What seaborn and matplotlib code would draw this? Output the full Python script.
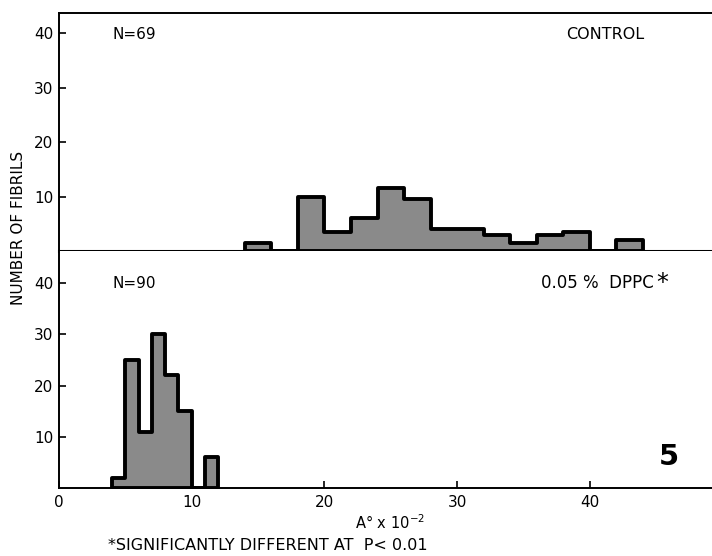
import matplotlib
matplotlib.use("Agg")
import matplotlib.pyplot as plt
import seaborn as sns
import numpy as np
import pandas as pd

# ---- data ----
control_edges = [14, 16, 18, 20, 22, 24, 26, 28, 30, 32, 34, 36, 38, 40, 42, 44]
control_counts = [1.5, 0, 10, 3.5, 6, 11.5, 9.5, 4, 4, 3, 1.5, 3, 3.5, 0, 2]

dppc_edges = [4, 5, 6, 7, 8, 9, 10, 11, 12]
dppc_counts = [2, 25, 11, 30, 22, 15, 0, 6]

x_ticks = [0, 10, 20, 30, 40]
y_ticks = [10, 20, 30, 40]

sns.set_theme(style="white")
plt.rcParams['font.family'] = ['DejaVu Sans']
plt.rcParams['text.color'] = 'black'
plt.rcParams['xtick.color'] = 'black'
plt.rcParams['ytick.color'] = 'black'

fig = plt.figure(figsize=(7.12, 5.56), dpi=100)
L = 59 / 712
W = 1 - L
ax_top = fig.add_axes([L, 1 - 251 / 556, W, (251 - 13) / 556])
ax_bot = fig.add_axes([L, 1 - 488 / 556, W, (488 - 251) / 556])

fill = '#8a8a8a'


def draw(ax, edges, counts, ylim):
    e = np.asarray(edges, dtype=float)
    centers = (e[:-1] + e[1:]) / 2
    df = pd.DataFrame({'x': centers, 'w': counts})
    sns.histplot(data=df, x='x', weights='w', bins=edges, element='step',
                 fill=True, color=fill, edgecolor='black', linewidth=2.8,
                 alpha=1, ax=ax)
    ax.set_xlim(0, 49.2)
    ax.set_ylim(0, ylim)
    ax.set_xlabel('')
    ax.set_ylabel('')
    ax.set_yticks(y_ticks)
    ax.tick_params(axis='y', direction='in', length=5, width=1.2,
                   labelsize=11, left=True, pad=4, labelcolor='black')
    for s in ['left', 'bottom', 'top']:
        ax.spines[s].set_color('black')
        ax.spines[s].set_linewidth(1.4)
    ax.spines['right'].set_visible(False)


draw(ax_top, control_edges, control_counts, 43.7)
draw(ax_bot, dppc_edges, dppc_counts, 46.3)

ax_top.set_xticks([])
ax_top.spines['bottom'].set_linewidth(2.2)
ax_bot.spines['top'].set_visible(False)
ax_bot.set_xticks(x_ticks)
ax_bot.tick_params(axis='x', direction='in', length=5, width=1.2,
                   labelsize=11, bottom=True, pad=5, labelcolor='black')

ax_top.text(4.0, 39.8, 'N=69', fontsize=11, va='center', ha='left')
ax_top.text(38.2, 39.8, 'CONTROL', fontsize=11.5, va='center', ha='left')
ax_bot.text(4.0, 40, 'N=90', fontsize=11, va='center', ha='left')
t = ax_bot.text(36.3, 40, '0.05 %  DPPC', fontsize=12, va='center', ha='left')
ax_bot.annotate('*', xy=(1, 1), xycoords=t, xytext=(2, -6),
                textcoords='offset points', fontsize=17, ha='left', va='center')
ax_bot.text(45.2, 6, '5', fontsize=21, fontweight='bold', va='center', ha='left')

fig.text(19 / 712, 1 - 228 / 556, 'NUMBER OF FIBRILS', rotation=90,
         fontsize=11, va='center', ha='center')
fig.text(390 / 712, 1 - 523 / 556, r'A$\degree$ x 10$^{-2}$', fontsize=10.5,
         va='center', ha='center')
fig.text(108 / 712, 1 - 545 / 556, '*SIGNIFICANTLY DIFFERENT AT  P< 0.01',
         fontsize=11.5, va='center', ha='left')

fig.savefig('out.png', dpi=100)
